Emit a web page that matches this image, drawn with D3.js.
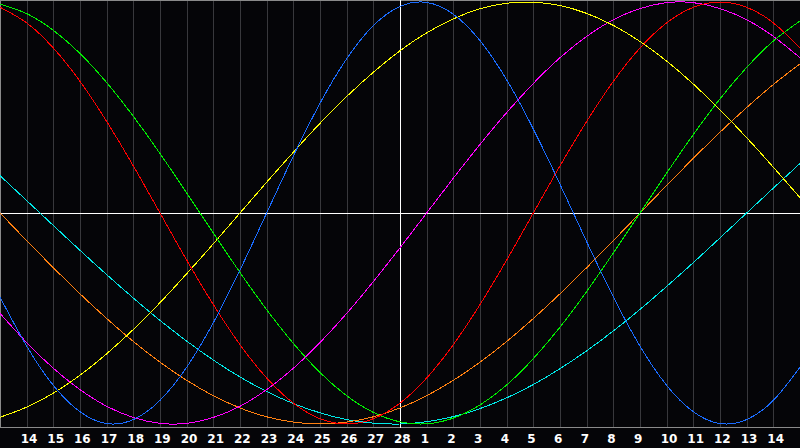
<!DOCTYPE html>
<html>
<head>
<meta charset="utf-8">
<script src="https://cdn.jsdelivr.net/npm/d3@7"></script>
<style>
  html, body { margin: 0; padding: 0; background: #050508; }
  svg { display: block; }
</style>
</head>
<body>
<script>
const width = 800,
    height = 448,
    plotBottom = 428;

// day labels along the bottom (index 0 = day 13, not labelled)
const days = [13, 14, 15, 16, 17, 18, 19, 20, 21, 22, 23, 24, 25, 26, 27, 28,
    1, 2, 3, 4, 5, 6, 7, 8, 9, 10, 11, 12, 13, 14, 15];
const todayIndex = 15;

// cycle values read at each day line, -1..1
const physical = [-0.398, -0.631, -0.817, -0.942, -0.998, -0.979, -0.888, -0.731, -0.520, -0.270,
    0, 0.270, 0.520, 0.731, 0.888, 0.979, 0.998, 0.942, 0.817, 0.631,
    0.398, 0.136, -0.136, -0.398, -0.631, -0.817, -0.942, -0.998, -0.979, -0.888, -0.731];
const emotional = [0.975, 0.901, 0.782, 0.624, 0.434, 0.223, 0, -0.223, -0.434, -0.624,
    -0.782, -0.901, -0.975, -1, -0.975, -0.901, -0.782, -0.624, -0.434, -0.223,
    0, 0.223, 0.434, 0.624, 0.782, 0.901, 0.975, 1, 0.975, 0.901, 0.782];
const intellectual = [0.990, 0.945, 0.866, 0.756, 0.618, 0.458, 0.282, 0.095, -0.095, -0.282,
    -0.458, -0.618, -0.756, -0.866, -0.945, -0.990, -0.999, -0.972, -0.910, -0.815,
    -0.690, -0.541, -0.372, -0.189, 0, 0.189, 0.372, 0.541, 0.690, 0.815, 0.910];
const intuitive = [-0.476, -0.614, -0.736, -0.837, -0.916, -0.969, -0.997, -0.997, -0.969, -0.916,
    -0.837, -0.736, -0.614, -0.476, -0.325, -0.165, 0, 0.165, 0.325, 0.476,
    0.614, 0.736, 0.837, 0.916, 0.969, 0.997, 0.997, 0.969, 0.916, 0.837, 0.736];
const aesthetic = [-0.968, -0.920, -0.854, -0.769, -0.667, -0.552, -0.425, -0.288, -0.146, 0,
    0.146, 0.288, 0.425, 0.552, 0.667, 0.769, 0.854, 0.920, 0.968, 0.994,
    0.999, 0.983, 0.946, 0.889, 0.813, 0.720, 0.611, 0.489, 0.357, 0.217, 0.073];
const awareness = [0, -0.131, -0.259, -0.383, -0.5, -0.609, -0.707, -0.793, -0.866, -0.924,
    -0.966, -0.991, -1, -0.991, -0.966, -0.924, -0.866, -0.793, -0.707, -0.609,
    -0.5, -0.383, -0.259, -0.131, 0, 0.131, 0.259, 0.383, 0.5, 0.609, 0.707];
const spiritual = [0.177, 0.059, -0.059, -0.177, -0.292, -0.403, -0.509, -0.607, -0.697, -0.777,
    -0.846, -0.903, -0.947, -0.979, -0.996, -1.000, -0.989, -0.965, -0.927, -0.876,
    -0.813, -0.738, -0.653, -0.559, -0.457, -0.348, -0.235, -0.118, 0, 0.118, 0.235];

const series = [
    {name: 'spiritual', values: spiritual, color: '#00e8e8'},
    {name: 'awareness', values: awareness, color: '#ff8010'},
    {name: 'intuitive', values: intuitive, color: '#ff00ff'},
    {name: 'aesthetic', values: aesthetic, color: '#ffff00'},
    {name: 'intellectual', values: intellectual, color: '#00ee00'},
    {name: 'emotional', values: emotional, color: '#ff0000'},
    {name: 'physical', values: physical, color: '#1a6cff'}
];

let x = d3.scaleLinear().domain([0, days.length - 1]).range([0, width]);
let y = d3.scaleLinear().domain([-1, 1]).range([424, 2]);

let svg = d3.select('body').append('svg')
    .attr('width', width)
    .attr('height', height);

svg.append('rect')
    .attr('width', width).attr('height', height)
    .attr('fill', '#050508');

// day grid
svg.selectAll('line.grid')
    .data(d3.range(1, days.length - 1))
    .enter().append('line')
    .attr('class', 'grid')
    .attr('x1', d => Math.round(x(d)) + 0.5)
    .attr('x2', d => Math.round(x(d)) + 0.5)
    .attr('y1', 0)
    .attr('y2', plotBottom)
    .attr('stroke', '#38383c')
    .attr('stroke-width', 1);

// border (top, left) and axis line
svg.append('line').attr('x1', 0).attr('x2', width).attr('y1', 0.5).attr('y2', 0.5)
    .attr('stroke', '#8a8a8a');
svg.append('line').attr('x1', 0.5).attr('x2', 0.5).attr('y1', 0).attr('y2', plotBottom)
    .attr('stroke', '#8a8a8a');
svg.append('line').attr('x1', 0).attr('x2', width).attr('y1', plotBottom - 0.5).attr('y2', plotBottom - 0.5)
    .attr('stroke', '#8a8a8a');

// zero line and today line
svg.append('line').attr('x1', 0).attr('x2', width)
    .attr('y1', Math.round(y(0)) + 0.5).attr('y2', Math.round(y(0)) + 0.5)
    .attr('stroke', '#ffffff');
svg.append('line')
    .attr('x1', Math.round(x(todayIndex)) + 0.5).attr('x2', Math.round(x(todayIndex)) + 0.5)
    .attr('y1', 0).attr('y2', plotBottom)
    .attr('stroke', '#ffffff');

// curves
let line = d3.line()
    .x((d, i) => x(i))
    .y(d => y(d))
    .curve(d3.curveNatural);

svg.selectAll('path.cycle')
    .data(series)
    .enter().append('path')
    .attr('class', 'cycle')
    .attr('d', d => line(d.values))
    .attr('fill', 'none')
    .attr('stroke', d => d.color)
    .attr('stroke-width', 1)
    .attr('shape-rendering', 'crispEdges');

// day labels
svg.selectAll('text.day')
    .data(days.slice(1, days.length - 1))
    .enter().append('text')
    .attr('class', 'day')
    .attr('x', (d, i) => x(i + 1) - 6)
    .attr('y', 443)
    .attr('fill', '#ffffff')
    .attr('font-family', 'DejaVu Sans, sans-serif')
    .attr('font-weight', 'bold')
    .attr('font-size', '12px')
    .text(d => d);
</script>
</body>
</html>
